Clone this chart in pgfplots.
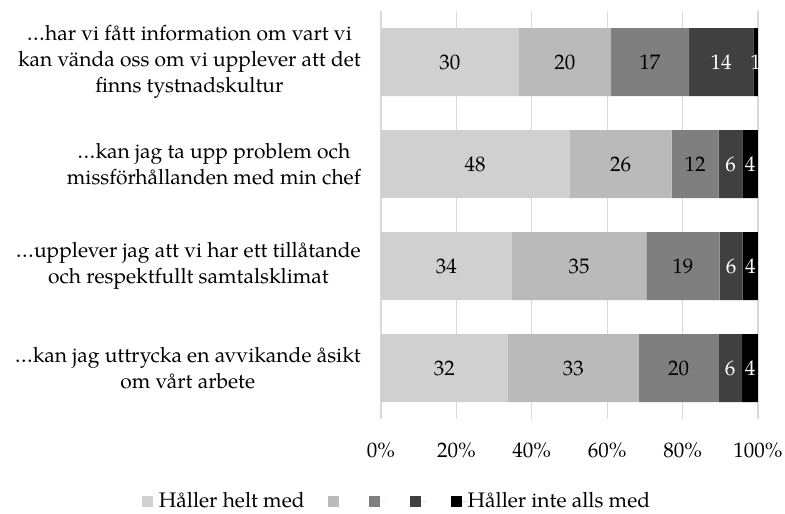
\documentclass[border=0pt]{standalone}
\usepackage{fontspec}
\setmainfont{TeX Gyre Pagella}
\usepackage{pgfplots}
\pgfplotsset{compat=1.18}
\definecolor{c1}{HTML}{D0D0D0}
\definecolor{c2}{HTML}{BABABA}
\definecolor{c3}{HTML}{7F7F7F}
\definecolor{c4}{HTML}{404040}
\definecolor{c5}{HTML}{000000}
\definecolor{gridc}{HTML}{D9D9D9}
\newcommand{\lblfont}{\fontsize{21pt}{26pt}\selectfont}
\begin{document}
\lblfont
\begin{tikzpicture}
\path[use as bounding box] (-381pt,-95pt) rectangle (404pt,419pt);
\begin{axis}[
  at={(0pt,0pt)}, anchor=south west,
  scale only axis, width=377pt, height=408pt,
  xbar stacked, bar width=68pt,
  xmin=0, xmax=100, ymin=-0.5, ymax=3.5, y dir=reverse,
  xtick={0,20,40,60,80,100},
  xticklabels={0\%,20\%,40\%,60\%,80\%,100\%},
  ytick={0,1,2,3},
  yticklabels={
    {…har vi fått information om vart vi\\kan vända oss om vi upplever att det\\finns tystnadskultur},
    {…kan jag ta upp problem och\\missförhållanden med min chef},
    {…upplever jag att vi har ett tillåtande\\och respektfullt samtalsklimat},
    {…kan jag uttrycka en avvikande åsikt\\om vårt arbete}
  },
  xmajorgrids, grid style={gridc, line width=1.2pt},
  axis line style={draw=none},
  major tick length=0pt,
  tick label style={font=\lblfont},
  xticklabel style={inner sep=0pt, yshift=-23pt},
  yticklabel style={inner sep=0pt, xshift=-20pt, align=center},
  point meta=explicit symbolic,
  nodes near coords,
  every node near coord/.append style={anchor=center, inner sep=0pt, font=\lblfont},
  legend columns=-1,
  legend style={draw=none, fill=none, at={(axis description cs:0.04,-0.2025)}, anchor=center,
    nodes={inner sep=0pt, font=\lblfont},
    /tikz/every even column/.append style={column sep=23pt}},
  legend image code/.code={\fill[#1] (0pt,-5.5pt) rectangle (11pt,5.5pt); \path (0pt,0pt) -- (17pt,0pt);},
]
\addplot[fill=c1, draw=none, every node near coord/.append style={text=black}]
  coordinates {(36.585,0) [30] (50.000,1) [48] (34.694,2) [34] (33.684,3) [32]};
\addlegendentry{Håller helt med}
\addplot[fill=c2, draw=none, every node near coord/.append style={text=black}]
  coordinates {(24.390,0) [20] (27.083,1) [26] (35.714,2) [35] (34.737,3) [33]};
\addlegendentry{\mbox{}}
\addplot[fill=c3, draw=none, every node near coord/.append style={text=black}]
  coordinates {(20.732,0) [17] (12.500,1) [12] (19.388,2) [19] (21.053,3) [20]};
\addlegendentry{\mbox{}}
\addplot[fill=c4, draw=none, every node near coord/.append style={text=white}]
  coordinates {(17.073,0) [14] (6.250,1) [6] (6.122,2) [6] (6.316,3) [6]};
\addlegendentry{\mbox{}}
\addplot[fill=c5, draw=none, every node near coord/.append style={text=white}]
  coordinates {(1.220,0) [1] (4.167,1) [4] (4.082,2) [4] (4.200,3) [4]};
\addlegendentry{Håller inte alls med}
\end{axis}
\end{tikzpicture}
\end{document}
